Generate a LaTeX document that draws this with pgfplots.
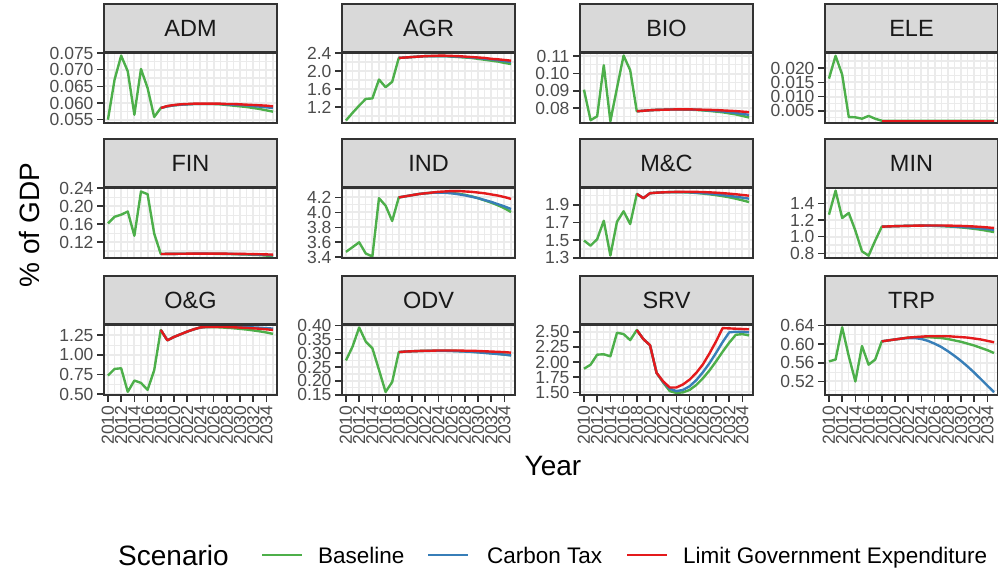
\documentclass[border=0pt]{standalone}
\usepackage{fontspec}
\setmainfont{Liberation Sans}
\usepackage{pgfplots}
\usepackage{pgfplotstable}
\pgfplotsset{compat=1.18}

\definecolor{cBase}{RGB}{77,175,74}
\definecolor{cCtax}{RGB}{55,126,184}
\definecolor{cLge}{RGB}{228,26,28}

% one table per sector: year, Baseline, Carbon Tax, Limit Government Expenditure
\pgfplotstableread{
x b c l
2010 0.0550 nan nan
2011 0.0670 nan nan
2012 0.0742 nan nan
2013 0.0695 nan nan
2014 0.0565 nan nan
2015 0.0702 nan nan
2016 0.0645 nan nan
2017 0.0558 nan nan
2018 0.0585 0.0585 0.0585
2019 0.0590 0.0590 0.0591
2020 0.0593 0.0593 0.0594
2021 0.0595 0.0595 0.0596
2022 0.0596 0.0596 0.0597
2023 0.0597 0.0597 0.0598
2024 0.0597 0.0597 0.0598
2025 0.0597 0.0597 0.0598
2026 0.0597 0.0597 0.0598
2027 0.0596 0.0597 0.0598
2028 0.0594 0.0596 0.0597
2029 0.0592 0.0595 0.0597
2030 0.0590 0.0594 0.0596
2031 0.0588 0.0593 0.0595
2032 0.0585 0.0591 0.0594
2033 0.0582 0.0589 0.0593
2034 0.0578 0.0587 0.0592
2035 0.0574 0.0585 0.0590
}\ADM
\pgfplotstableread{
x b c l
2010 0.90 nan nan
2011 1.07 nan nan
2012 1.23 nan nan
2013 1.38 nan nan
2014 1.39 nan nan
2015 1.81 nan nan
2016 1.64 nan nan
2017 1.76 nan nan
2018 2.29 2.29 2.29
2019 2.30 2.30 2.30
2020 2.31 2.31 2.31
2021 2.32 2.32 2.32
2022 2.33 2.33 2.33
2023 2.33 2.33 2.335
2024 2.33 2.33 2.34
2025 2.33 2.33 2.34
2026 2.32 2.325 2.335
2027 2.31 2.32 2.33
2028 2.30 2.31 2.32
2029 2.29 2.30 2.31
2030 2.27 2.29 2.30
2031 2.25 2.27 2.29
2032 2.23 2.26 2.27
2033 2.21 2.24 2.26
2034 2.18 2.22 2.245
2035 2.155 2.20 2.23
}\AGR
\pgfplotstableread{
x b c l
2010 0.0906 nan nan
2011 0.0729 nan nan
2012 0.0752 nan nan
2013 0.1048 nan nan
2014 0.0723 nan nan
2015 0.0916 nan nan
2016 0.1104 nan nan
2017 0.1019 nan nan
2018 0.0781 0.0781 0.0781
2019 0.0784 0.0784 0.0784
2020 0.0787 0.0787 0.0787
2021 0.0789 0.0789 0.0789
2022 0.0790 0.0790 0.0790
2023 0.0791 0.0791 0.0791
2024 0.0791 0.0791 0.0792
2025 0.0791 0.0791 0.0792
2026 0.0790 0.0791 0.0792
2027 0.0789 0.0790 0.0791
2028 0.0786 0.0788 0.0790
2029 0.0783 0.0786 0.0789
2030 0.0779 0.0783 0.0788
2031 0.0775 0.0780 0.0786
2032 0.0769 0.0776 0.0784
2033 0.0763 0.0771 0.0782
2034 0.0754 0.0766 0.0779
2035 0.0745 0.0760 0.0776
}\BIO
\pgfplotstableread{
x b c l
2010 0.0163 nan nan
2011 0.0243 nan nan
2012 0.0177 nan nan
2013 0.0028 nan nan
2014 0.0027 nan nan
2015 0.0022 nan nan
2016 0.0032 nan nan
2017 0.0022 nan nan
2018 0.0015 0.0015 0.0015
2019 0.0015 0.0015 0.0015
2020 0.0015 0.0015 0.0015
2021 0.0015 0.0015 0.0015
2022 0.0015 0.0015 0.0015
2023 0.0015 0.0015 0.0015
2024 0.0015 0.0015 0.0015
2025 0.0015 0.0015 0.0015
2026 0.0015 0.0015 0.0015
2027 0.0015 0.0015 0.0015
2028 0.0015 0.0015 0.0015
2029 0.0015 0.0015 0.0015
2030 0.0015 0.0015 0.0015
2031 0.0015 0.0015 0.0015
2032 0.0015 0.0015 0.0015
2033 0.0015 0.0015 0.0015
2034 0.0015 0.0015 0.0015
2035 0.0015 0.0015 0.0015
}\ELE
\pgfplotstableread{
x b c l
2010 0.1615 nan nan
2011 0.1763 nan nan
2012 0.1810 nan nan
2013 0.1880 nan nan
2014 0.1340 nan nan
2015 0.2326 nan nan
2016 0.2267 nan nan
2017 0.1390 nan nan
2018 0.0933 0.0933 0.0933
2019 0.0935 0.0935 0.0935
2020 0.0937 0.0937 0.0937
2021 0.0938 0.0938 0.0939
2022 0.0939 0.0939 0.0940
2023 0.0939 0.0940 0.0941
2024 0.0939 0.0940 0.0942
2025 0.0939 0.0940 0.0942
2026 0.0938 0.0939 0.0942
2027 0.0936 0.0938 0.0941
2028 0.0934 0.0936 0.0940
2029 0.0931 0.0934 0.0938
2030 0.0927 0.0931 0.0936
2031 0.0922 0.0928 0.0934
2032 0.0916 0.0924 0.0931
2033 0.0909 0.0919 0.0928
2034 0.0898 0.0913 0.0924
2035 0.0885 0.0905 0.0920
}\FIN
\pgfplotstableread{
x b c l
2010 3.472 nan nan
2011 3.535 nan nan
2012 3.600 nan nan
2013 3.450 nan nan
2014 3.410 nan nan
2015 4.190 nan nan
2016 4.090 nan nan
2017 3.885 nan nan
2018 4.200 4.200 4.200
2019 4.215 4.215 4.215
2020 4.230 4.230 4.230
2021 4.245 4.245 4.245
2022 4.255 4.255 4.255
2023 4.262 4.262 4.265
2024 4.265 4.265 4.275
2025 4.265 4.262 4.280
2026 4.260 4.255 4.285
2027 4.250 4.243 4.285
2028 4.235 4.228 4.280
2029 4.215 4.210 4.275
2030 4.190 4.190 4.265
2031 4.160 4.165 4.255
2032 4.130 4.140 4.240
2033 4.095 4.110 4.225
2034 4.055 4.080 4.205
2035 4.005 4.045 4.180
}\IND
\pgfplotstableread{
x b c l
2010 1.496 nan nan
2011 1.437 nan nan
2012 1.511 nan nan
2013 1.719 nan nan
2014 1.326 nan nan
2015 1.707 nan nan
2016 1.826 nan nan
2017 1.681 nan nan
2018 2.022 2.022 2.022
2019 1.974 1.974 1.974
2020 2.030 2.030 2.030
2021 2.036 2.036 2.036
2022 2.040 2.040 2.040
2023 2.042 2.042 2.043
2024 2.042 2.043 2.045
2025 2.041 2.042 2.046
2026 2.038 2.040 2.046
2027 2.033 2.036 2.045
2028 2.026 2.031 2.043
2029 2.018 2.025 2.040
2030 2.008 2.018 2.036
2031 1.997 2.010 2.031
2032 1.984 2.000 2.025
2033 1.968 1.990 2.018
2034 1.950 1.980 2.010
2035 1.930 1.968 2.002
}\MNC
\pgfplotstableread{
x b c l
2010 1.264 nan nan
2011 1.552 nan nan
2012 1.224 nan nan
2013 1.284 nan nan
2014 1.072 nan nan
2015 0.824 nan nan
2016 0.772 nan nan
2017 0.952 nan nan
2018 1.120 1.120 1.120
2019 1.123 1.123 1.123
2020 1.126 1.126 1.126
2021 1.128 1.128 1.128
2022 1.130 1.130 1.130
2023 1.131 1.131 1.132
2024 1.132 1.132 1.133
2025 1.131 1.132 1.134
2026 1.130 1.131 1.134
2027 1.127 1.129 1.134
2028 1.123 1.126 1.133
2029 1.118 1.122 1.131
2030 1.111 1.117 1.129
2031 1.103 1.112 1.126
2032 1.094 1.106 1.122
2033 1.083 1.099 1.117
2034 1.070 1.091 1.111
2035 1.055 1.082 1.104
}\MIN
\pgfplotstableread{
x b c l
2010 0.737 nan nan
2011 0.822 nan nan
2012 0.830 nan nan
2013 0.530 nan nan
2014 0.674 nan nan
2015 0.644 nan nan
2016 0.555 nan nan
2017 0.805 nan nan
2018 1.318 1.318 1.318
2019 1.186 1.186 1.186
2020 1.229 1.229 1.229
2021 1.263 1.263 1.263
2022 1.297 1.297 1.297
2023 1.326 1.326 1.326
2024 1.350 1.350 1.350
2025 1.354 1.357 1.357
2026 1.354 1.359 1.358
2027 1.351 1.359 1.357
2028 1.346 1.358 1.355
2029 1.340 1.357 1.352
2030 1.332 1.355 1.348
2031 1.323 1.353 1.344
2032 1.312 1.350 1.339
2033 1.300 1.346 1.333
2034 1.286 1.341 1.326
2035 1.268 1.335 1.318
}\ONG
\pgfplotstableread{
x b c l
2010 0.274 nan nan
2011 0.324 nan nan
2012 0.393 nan nan
2013 0.342 nan nan
2014 0.318 nan nan
2015 0.240 nan nan
2016 0.160 nan nan
2017 0.196 nan nan
2018 0.304 0.304 0.304
2019 0.306 0.306 0.306
2020 0.307 0.307 0.307
2021 0.308 0.308 0.308
2022 0.309 0.308 0.309
2023 0.309 0.309 0.309
2024 0.309 0.309 0.310
2025 0.309 0.309 0.310
2026 0.309 0.308 0.310
2027 0.308 0.307 0.310
2028 0.307 0.306 0.309
2029 0.305 0.305 0.309
2030 0.304 0.303 0.308
2031 0.302 0.301 0.307
2032 0.300 0.299 0.306
2033 0.298 0.297 0.305
2034 0.295 0.295 0.304
2035 0.293 0.292 0.302
}\ODV
\pgfplotstableread{
x b c l
2010 1.889 nan nan
2011 1.956 nan nan
2012 2.122 nan nan
2013 2.128 nan nan
2014 2.094 nan nan
2015 2.483 nan nan
2016 2.461 nan nan
2017 2.361 nan nan
2018 2.528 2.528 2.528
2019 2.378 2.378 2.378
2020 2.278 2.278 2.278
2021 1.820 1.820 1.820
2022 1.660 1.670 1.680
2023 1.520 1.560 1.580
2024 1.490 1.520 1.580
2025 1.500 1.540 1.630
2026 1.540 1.600 1.710
2027 1.620 1.700 1.820
2028 1.730 1.830 1.960
2029 1.860 1.980 2.140
2030 2.010 2.150 2.340
2031 2.170 2.330 2.560
2032 2.320 2.490 2.555
2033 2.450 2.500 2.550
2034 2.460 2.500 2.545
2035 2.440 2.490 2.540
}\SRV
\pgfplotstableread{
x b c l
2010 0.563 nan nan
2011 0.567 nan nan
2012 0.636 nan nan
2013 0.574 nan nan
2014 0.520 nan nan
2015 0.596 nan nan
2016 0.556 nan nan
2017 0.567 nan nan
2018 0.606 0.606 0.606
2019 0.608 0.608 0.608
2020 0.610 0.610 0.610
2021 0.612 0.612 0.612
2022 0.614 0.613 0.614
2023 0.615 0.613 0.615
2024 0.615 0.611 0.616
2025 0.615 0.607 0.617
2026 0.614 0.601 0.617
2027 0.613 0.594 0.617
2028 0.611 0.585 0.617
2029 0.608 0.575 0.616
2030 0.605 0.564 0.615
2031 0.601 0.552 0.614
2032 0.597 0.539 0.612
2033 0.592 0.525 0.610
2034 0.587 0.511 0.607
2035 0.581 0.497 0.604
}\TRP

\pgfplotsset{
  panel/.style={
    scale only axis, width=173pt, height=70pt, anchor=south west,
    xmin=2009.4, xmax=2035.6,
    xtick={2010,2012,...,2034}, minor xtick={2011,2013,...,2035},
    xmajorgrids, xminorgrids, ymajorgrids, yminorgrids,
    major grid style={color=black!8, line width=2pt},
    minor grid style={color=black!8, line width=1.1pt},
    axis line style={black!80, line width=1.5pt},
    tick align=outside, tick pos=left,
    major tick length=7pt, minor tick length=0pt,
    tick style={black!80, line width=1.6pt},
    ticklabel style={font=\fontsize{17.5}{18}\selectfont, text=black!70},
    clip mode=individual,
    every axis title shift=0pt,
    title style={at={(0.5,1)}, anchor=south, fill=black!15, draw=black!80,
      line width=1.5pt, minimum width=173pt, minimum height=48pt, inner sep=0pt,
      text=black!90, font=\fontsize{23.5}{24}\selectfont},
  },
  top/.style={xmajorticks=false, xticklabels={}},
  bottom/.style={
    xticklabels={2010,2012,2014,2016,2018,2020,2022,2024,2026,2028,2030,2032,2034},
    xticklabel style={rotate=90, anchor=east}},
  base/.style={color=cBase, line width=2.4pt, line join=round, no markers},
  ctax/.style={color=cCtax, line width=2.4pt, line join=round, no markers},
  lge/.style={color=cLge, line width=2.4pt, line join=round, no markers},
}
\newcommand\scen[1]{%
  \addplot[base] table[x=x, y=b] {#1};
  \addplot[ctax] table[x=x, y=c] {#1};
  \addplot[lge] table[x=x, y=l] {#1};
  \draw[black!80, line width=1.5pt] (rel axis cs:0,0) rectangle (rel axis cs:1,1);}

\begin{document}
\begin{tikzpicture}[x=1pt, y=1pt]
\path[use as bounding box] (0,0) rectangle (998,573);

% row 1
\begin{axis}[panel, top, at={(104pt,450pt)}, title={ADM},
  ymin=0.054, ymax=0.075,
  ytick={0.055,0.060,0.065,0.070,0.075}, yticklabels={0.055,0.060,0.065,0.070,0.075},
  minor ytick={0.0575,0.0625,0.0675,0.0725}]
\scen{\ADM}
\end{axis}
\begin{axis}[panel, top, at={(342pt,450pt)}, title={AGR},
  ymin=0.844, ymax=2.4,
  ytick={1.2,1.6,2.0,2.4}, yticklabels={1.2,1.6,2.0,2.4},
  minor ytick={1.0,1.4,1.8,2.2}]
\scen{\AGR}
\end{axis}
\begin{axis}[panel, top, at={(580pt,450pt)}, title={BIO},
  ymin=0.0713, ymax=0.1119,
  ytick={0.08,0.09,0.10,0.11}, yticklabels={0.08,0.09,0.10,0.11},
  minor ytick={0.075,0.085,0.095,0.105}]
\scen{\BIO}
\end{axis}
\begin{axis}[panel, top, at={(825pt,450pt)}, title={ELE},
  ymin=0.0007, ymax=0.0253,
  ytick={0.005,0.010,0.015,0.020}, yticklabels={0.005,0.010,0.015,0.020},
  minor ytick={0.0025,0.0075,0.0125,0.0175,0.0225}]
\scen{\ELE}
\end{axis}

% row 2
\begin{axis}[panel, top, at={(104pt,315pt)}, title={FIN},
  ymin=0.0844, ymax=0.2405,
  ytick={0.12,0.16,0.20,0.24}, yticklabels={0.12,0.16,0.20,0.24},
  minor ytick={0.10,0.14,0.18,0.22}]
\scen{\FIN}
\end{axis}
\begin{axis}[panel, top, at={(342pt,315pt)}, title={IND},
  ymin=3.39, ymax=4.326,
  ytick={3.4,3.6,3.8,4.0,4.2}, yticklabels={3.4,3.6,3.8,4.0,4.2},
  minor ytick={3.5,3.7,3.9,4.1,4.3}]
\scen{\IND}
\end{axis}
\begin{axis}[panel, top, at={(580pt,315pt)}, title={M\&C},
  ymin=1.298, ymax=2.089,
  ytick={1.3,1.5,1.7,1.9}, yticklabels={1.3,1.5,1.7,1.9},
  minor ytick={1.4,1.6,1.8,2.0}]
\scen{\MNC}
\end{axis}
\begin{axis}[panel, top, at={(825pt,315pt)}, title={MIN},
  ymin=0.744, ymax=1.584,
  ytick={0.8,1.0,1.2,1.4}, yticklabels={0.8,1.0,1.2,1.4},
  minor ytick={0.9,1.1,1.3,1.5}]
\scen{\MIN}
\end{axis}

% row 3
\begin{axis}[panel, bottom, at={(104pt,178pt)}, title={O\&G},
  ymin=0.49, ymax=1.381,
  ytick={0.50,0.75,1.00,1.25}, yticklabels={0.50,0.75,1.00,1.25},
  minor ytick={0.625,0.875,1.125,1.375}]
\scen{\ONG}
\end{axis}
\begin{axis}[panel, bottom, at={(342pt,178pt)}, title={ODV},
  ymin=0.149, ymax=0.402,
  ytick={0.15,0.20,0.25,0.30,0.35,0.40}, yticklabels={0.15,0.20,0.25,0.30,0.35,0.40},
  minor ytick={0.175,0.225,0.275,0.325,0.375}]
\scen{\ODV}
\end{axis}
\begin{axis}[panel, bottom, at={(580pt,178pt)}, title={SRV},
  ymin=1.456, ymax=2.611,
  ytick={1.50,1.75,2.00,2.25,2.50}, yticklabels={1.50,1.75,2.00,2.25,2.50},
  minor ytick={1.625,1.875,2.125,2.375}]
\scen{\SRV}
\end{axis}
\begin{axis}[panel, bottom, at={(825pt,178pt)}, title={TRP},
  ymin=0.491, ymax=0.641,
  ytick={0.52,0.56,0.60,0.64}, yticklabels={0.52,0.56,0.60,0.64},
  minor ytick={0.50,0.54,0.58,0.62}]
\scen{\TRP}
\end{axis}

% axis titles
\node[font=\fontsize{28}{28}\selectfont] at (553,107) {Year};
\node[font=\fontsize{28}{28}\selectfont, rotate=90] at (30,348) {\% of GDP};

% legend
\node[font=\fontsize{28}{28}\selectfont, anchor=base west, inner sep=0pt] at (118,8) {Scenario};
\draw[cBase, line width=2.4pt] (262,18) -- (302,18);
\node[font=\fontsize{22.5}{23}\selectfont, anchor=base west, inner sep=0pt] at (318,10) {Baseline};
\draw[cCtax, line width=2.4pt] (428,18) -- (468,18);
\node[font=\fontsize{22.5}{23}\selectfont, anchor=base west, inner sep=0pt] at (487,10) {Carbon Tax};
\draw[cLge, line width=2.4pt] (627,18) -- (667,18);
\node[font=\fontsize{22.5}{23}\selectfont, anchor=base west, inner sep=0pt] at (683,10) {Limit Government Expenditure};
\end{tikzpicture}
\end{document}
